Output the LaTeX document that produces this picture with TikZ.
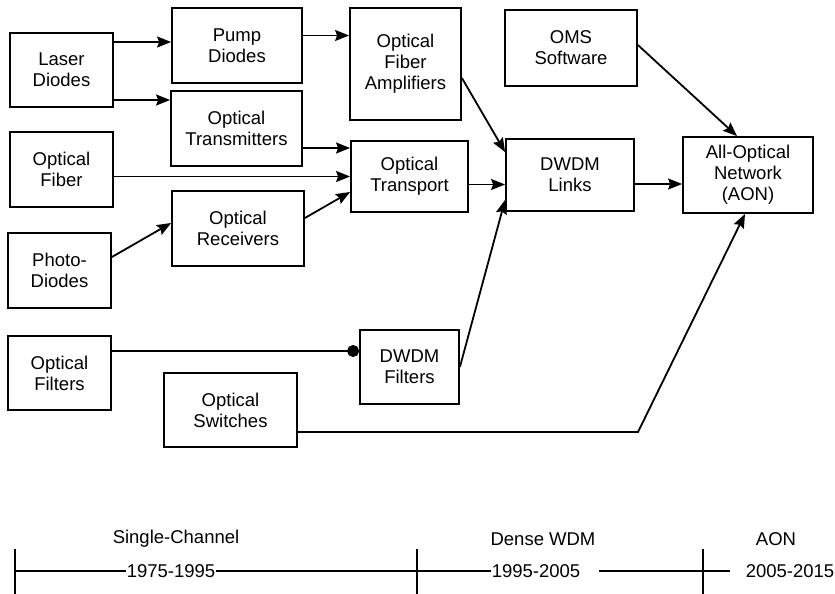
\documentclass[tikz,border=0pt]{standalone}
\usepackage{fontspec}
\setmainfont{Liberation Sans}
\usetikzlibrary{arrows.meta,positioning,calc}

\begin{document}
\begin{tikzpicture}[
  x=1pt,y=-1pt,
  every node/.style={font=\fontsize{18.5}{21}\selectfont},
  optbox/.style={draw,line width=1.8pt,align=center,inner sep=2pt},
  arr/.style={-{Stealth[length=14pt,width=11pt,inset=2pt]},line width=1.8pt},
  era/.style={line width=1.6pt},
  year/.style={inner sep=1pt},
]
  \useasboundingbox (0,0) rectangle (835,594);

  % Component boxes
  \node[optbox,minimum width=103pt,minimum height=74pt] (laser) at (61.5,70) {Laser\\Diodes};
  \node[optbox,minimum width=103pt,minimum height=75pt] (fiber) at (61.5,169.5) {Optical\\Fiber};
  \node[optbox,minimum width=103pt,minimum height=75pt] (photo) at (59.5,270.5) {Photo-\\Diodes};
  \node[optbox,minimum width=103pt,minimum height=74pt] (filters) at (59.5,373) {Optical\\Filters};

  \node[optbox,minimum width=130pt,minimum height=75pt] (pump) at (237,45.5) {Pump\\Diodes};
  \node[optbox,minimum width=131pt,minimum height=75pt] (trans) at (236.5,128.5) {Optical\\Transmitters};
  \node[optbox,minimum width=132pt,minimum height=75pt] (recv) at (238,228.5) {Optical\\Receivers};
  \node[optbox,minimum width=133pt,minimum height=74pt] (switches) at (230.5,410) {Optical\\Switches};

  \node[optbox,minimum width=111pt,minimum height=112pt] (amp) at (405.5,64) {Optical\\Fiber\\Amplifiers};
  \node[optbox,minimum width=117pt,minimum height=71pt] (transport) at (409.5,176.5) {Optical\\Transport};
  \node[optbox,minimum width=99pt,minimum height=74pt] (dfilt) at (409.5,367) {DWDM\\Filters};

  \node[optbox,minimum width=132pt,minimum height=76pt] (oms) at (571,48) {OMS\\Software};
  \node[optbox,minimum width=128pt,minimum height=72pt] (links) at (570,175) {DWDM\\Links};
  \node[optbox,minimum width=130pt,minimum height=76pt] (aon) at (748,175) {All-Optical\\Network\\(AON)};

  % Connections
  \draw[arr] ([yshift=28pt]laser.east) -- ([yshift=28pt]laser.east -| pump.west);
  \draw[arr] ([yshift=-30pt]laser.east) -- ([yshift=-30pt]laser.east -| trans.west);
  \draw[arr] ([yshift=10pt]pump.east) -- ([yshift=10pt]pump.east -| amp.west);
  \draw[arr] ([yshift=-19.5pt]trans.east) -- ([yshift=-19.5pt]trans.east -| transport.west);
  \draw[arr] (fiber.east |- transport.west) -- (transport.west);
  \draw[arr] ([yshift=13.5pt]photo.east) -- ([yshift=5.5pt]recv.west);
  \draw[arr] ([yshift=10.5pt]recv.east) -- ([yshift=-15.5pt]transport.west);
  \draw[arr] ([yshift=-14pt]amp.east) -- ([yshift=-14pt]links.north west);
  \draw[arr] ([yshift=-8pt]transport.east) -- ([yshift=-8pt]transport.east -| links.west);
  \draw[arr] (dfilt.east) -- ([yshift=12pt]links.south west);
  \draw[arr] ([yshift=-9pt]links.east) -- ([yshift=-9pt]links.east -| aon.west);
  \draw[arr] ([yshift=3pt]oms.east) -- ([xshift=-11pt]aon.north);
  \draw[-{Circle[length=12pt]},line width=1.8pt] ([yshift=22pt]filters.east) -- ([yshift=22pt]filters.east -| dfilt.west);
  \coordinate (bend) at (638,432);
  \draw[arr] ([yshift=-22pt]switches.east) -- (bend) -- ([xshift=-3pt]aon.south);

  % Timeline
  \coordinate (t1) at (15,571);
  \coordinate (t2) at (417,571);
  \coordinate (t3) at (703,571);
  \foreach \t in {t1,t2,t3}
    \draw[era] ([yshift=22pt]\t) -- ([yshift=-25pt]\t);
  \node[year] (y1) at (171,571) {1975-1995};
  \node[year] (y2) at (536,571) {1995-2005};
  \node[year] (y3) at (790,571) {2005-2015};
  \node (e1) at (176,539) {Single-Channel};
  \node (e2) at (543,539) {Dense WDM};
  \node (e3) at (776,539) {AON};
  \draw[era] (t1) -- (y1.west);
  \draw[era] (y1.east) -- (y2.west);
  \draw[era] ([xshift=18pt]y2.east) -- ([xshift=-15pt]y3.west);
\end{tikzpicture}
\end{document}
